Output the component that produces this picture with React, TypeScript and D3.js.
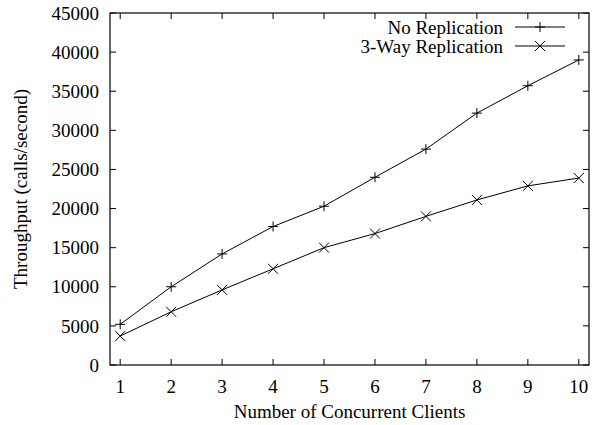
import React from "react";
import * as d3 from "d3";

const clients = [1, 2, 3, 4, 5, 6, 7, 8, 9, 10];
const noReplication = [5200, 10000, 14200, 17700, 20300, 24000, 27600, 32200, 35700, 39000];
const threeWay = [3700, 6800, 9600, 12300, 15000, 16800, 19000, 21100, 22900, 23900];
const yTicks = [0, 5000, 10000, 15000, 20000, 25000, 30000, 35000, 40000, 45000];
const seriesNames = ["No Replication", "3-Way Replication"];

const W = 596, H = 425;
const L = 110, R = 589, T = 13, B = 365;
const FONT = "Liberation Serif, DejaVu Serif, serif";
const FS = 19;

export default function App() {
  const x = d3.scaleLinear().domain([0.8, 10.2]).range([L, R]);
  const y = d3.scaleLinear().domain([0, 45000]).range([B, T]);
  const line = d3.line<number>().x((_, i) => x(clients[i])).y((d) => y(d));
  const tl = 6;
  const plus = (cx: number, cy: number, k: string) => (
    <path key={k} d={`M${cx - 5},${cy}H${cx + 5}M${cx},${cy - 5}V${cy + 5}`} stroke="#000" strokeWidth={1} />
  );
  const cross = (cx: number, cy: number, k: string) => (
    <path key={k} d={`M${cx - 5},${cy - 5}L${cx + 5},${cy + 5}M${cx - 5},${cy + 5}L${cx + 5},${cy - 5}`} stroke="#000" strokeWidth={1} />
  );
  const series = [noReplication, threeWay];
  const markers = [plus, cross];
  const legendY = [27, 46];
  return (
    <svg width={W} height={H} style={{ position: "absolute", left: 0, top: 0, background: "#fff", fontFamily: FONT }}>
      <rect x={0} y={0} width={W} height={H} fill="#fff" />
      {yTicks.map((t) => (
        <g key={"y" + t}>
          <line x1={L} x2={L + tl} y1={y(t)} y2={y(t)} stroke="#000" />
          <line x1={R} x2={R - tl} y1={y(t)} y2={y(t)} stroke="#000" />
          <text x={L - 11} y={y(t)} dy="0.35em" textAnchor="end" fontSize={FS}>{t}</text>
        </g>
      ))}
      {clients.map((c) => (
        <g key={"x" + c}>
          <line x1={x(c)} x2={x(c)} y1={B} y2={B - tl} stroke="#000" />
          <line x1={x(c)} x2={x(c)} y1={T} y2={T + tl} stroke="#000" />
          <text x={x(c)} y={B + 21} dy="0.35em" textAnchor="middle" fontSize={FS}>{c}</text>
        </g>
      ))}
      <rect x={L} y={T} width={R - L} height={B - T} fill="none" stroke="#000" strokeWidth={1.2} />
      {series.map((s, si) => (
        <g key={"s" + si}>
          <path d={line(s) || ""} fill="none" stroke="#000" strokeWidth={1} />
          {s.map((v, i) => markers[si](x(clients[i]), y(v), `m${si}-${i}`))}
        </g>
      ))}
      {seriesNames.map((n, i) => (
        <g key={"l" + i}>
          <text x={503} y={legendY[i]} dy="0.35em" textAnchor="end" fontSize={FS}>{n}</text>
          <line x1={515} x2={565} y1={legendY[i]} y2={legendY[i]} stroke="#000" />
          {markers[i](540, legendY[i], "lm" + i)}
        </g>
      ))}
      <text x={(L + R) / 2} y={411} dy="0.35em" textAnchor="middle" fontSize={FS}>Number of Concurrent Clients</text>
      <text transform={`translate(20,${(T + B) / 2}) rotate(-90)`} dy="0.35em" textAnchor="middle" fontSize={FS}>Throughput (calls/second)</text>
    </svg>
  );
}
